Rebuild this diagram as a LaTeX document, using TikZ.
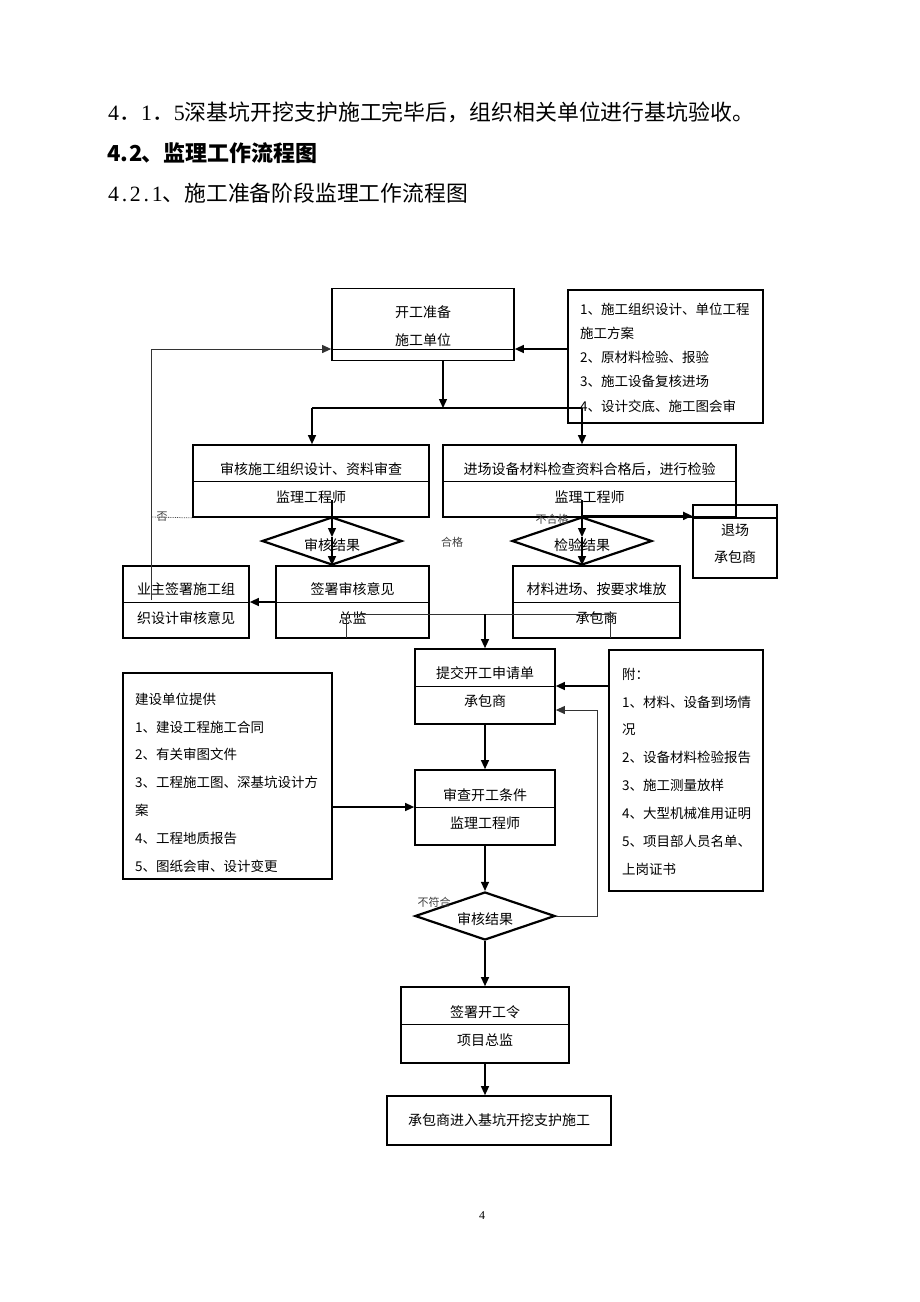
\documentclass[tikz,border=0pt]{standalone}
\usepackage{fontspec}
\setmainfont{Noto Sans CJK SC}
\newfontfamily\lserif{Liberation Serif}
\newcommand\hw[1]{\makebox[0.5em]{#1}}
\usetikzlibrary{arrows.meta,shapes.geometric}
\begin{document}
\begin{tikzpicture}[x=1pt,y=-1pt,
  box/.style={draw, line width=1.7pt, inner sep=0pt},
  div/.style={line width=0.6pt},
  conn/.style={line width=1.3pt, -{Triangle[length=9pt,width=8pt]}},
  thinconn/.style={line width=1pt, -{Triangle[length=9pt,width=8pt]}},
  wire/.style={line width=1pt},
  dia/.style={draw, diamond, line width=2.2pt, inner sep=0pt, minimum width=140pt, minimum height=48pt},
  txt/.style={inner sep=0pt, font=\fontsize{14}{14}\selectfont},
  ltxt/.style={inner sep=0pt, anchor=west, align=left},
  small/.style={inner sep=0pt, font=\fontsize{11}{11}\selectfont, text=black!75},
  head/.style={inner sep=0pt, anchor=west, font=\fontsize{20.5}{20.5}\selectfont}
]
\fill[white] (0,0) rectangle (920,1302);
\useasboundingbox (0,0) rectangle (920,1302);

% headings
\node[head, font=\fontsize{21.9}{21.9}\selectfont] (h1) at (108,112) {{\lserif\hw{4}}．{\lserif\hw{1}}．{\lserif\hw{5}}深基坑开挖支护施工完毕后，组织相关单位进行基坑验收。};
\node[head, font=\fontsize{22}{22}\selectfont\bfseries] (h2) at (108,153) {\hw{4}\hw{.}\hw{2}、监理工作流程图};
\node[head, font=\fontsize{21.8}{21.8}\selectfont] (h3) at (108,193) {{\lserif\hw{4}\hw{.}\hw{2}\hw{.}\hw{1}}、施工准备阶段监理工作流程图};

% boxes
\node[box, minimum width=182pt, minimum height=72pt] (b1) at (423,324.5) {};
\node[box, minimum width=195pt, minimum height=133pt] (b2) at (665.5,356.5) {};
\node[box, minimum width=236pt, minimum height=72pt] (b3) at (311,481) {};
\node[box, minimum width=293pt, minimum height=72pt] (b4) at (589.5,481) {};
\node[box, minimum width=84pt, minimum height=73pt] (b5) at (735,541.5) {};
\node[box, minimum width=126pt, minimum height=72pt] (b6) at (186,602) {};
\node[box, minimum width=153pt, minimum height=72pt] (b7) at (352.5,602) {};
\node[box, minimum width=167pt, minimum height=72pt] (b8) at (596.5,602) {};
\node[box, minimum width=140pt, minimum height=75pt] (b9) at (485,686.5) {};
\node[box, minimum width=154pt, minimum height=241pt] (b10) at (686,770.5) {};
\node[box, minimum width=140pt, minimum height=75pt] (b11) at (485,807.5) {};
\node[box, minimum width=209pt, minimum height=206pt] (b12) at (227.5,776) {};
\node[box, minimum width=168pt, minimum height=76pt] (b13) at (485,1025) {};
\node[box, minimum width=224pt, minimum height=49pt] (b14) at (499,1120.5) {};

% diamonds
\node[dia] (d1) at (332,541) {};
\node[dia] (d2) at (582,541) {};
\node[dia] (d3) at (485,916) {};

% dividers
\draw[div] (b1.west |- 0,349) -- (b1.east |- 0,349);
\draw[div] (b3.west |- 0,481) -- (b3.east |- 0,481);
\draw[div] (b4.west |- 0,481) -- (b4.east |- 0,481);
\draw[line width=1.7pt] (b5.west |- 0,518) -- (b5.east |- 0,518);
\draw[div] (b6.west |- 0,602) -- (b6.east |- 0,602);
\draw[div] (b7.west |- 0,602) -- (b7.east |- 0,602);
\draw[div] (b8.west |- 0,602) -- (b8.east |- 0,602);
\draw[div] (b9.west |- 0,686) -- (b9.east |- 0,686);
\draw[div] (b11.west |- 0,807) -- (b11.east |- 0,807);
\draw[div] (b13.west |- 0,1024) -- (b13.east |- 0,1024);

% box texts
\node[txt] (t1a) at (423,312) {开工准备};
\node[txt] (t1b) at (423,340) {施工单位};
\node[ltxt, font=\fontsize{13.5}{24.2}\selectfont] (t2) at (580,357.5) {1、施工组织设计、单位工程\\施工方案\\2、原材料检验、报验\\3、施工设备复核进场\\4、设计交底、施工图会审};
\node[txt] (t3a) at (311,469) {审核施工组织设计、资料审查};
\node[txt] (t3b) at (311,497) {监理工程师};
\node[txt] (t4a) at (589.5,469) {进场设备材料检查资料合格后，进行检验};
\node[txt] (t4b) at (589.5,497) {监理工程师};
\node[txt] (t5a) at (735,530) {退场};
\node[txt] (t5b) at (735,557) {承包商};
\node[txt] (t6a) at (186,589) {业主签署施工组};
\node[txt] (t6b) at (186,618) {织设计审核意见};
\node[txt] (t7a) at (352.5,589) {签署审核意见};
\node[txt] (t7b) at (352.5,618) {总监};
\node[txt] (t8a) at (596.5,589) {材料进场、按要求堆放};
\node[txt] (t8b) at (596.5,618) {承包商};
\node[txt] (t9a) at (485,673) {提交开工申请单};
\node[txt] (t9b) at (485,701) {承包商};
\node[ltxt, font=\fontsize{13.5}{27.85}\selectfont] (t10) at (622,771.5) {附：\\1、材料、设备到场情\\况\\2、设备材料检验报告\\3、施工测量放样\\4、大型机械准用证明\\5、项目部人员名单、\\上岗证书};
\node[txt] (t11a) at (485,795) {审查开工条件};
\node[txt] (t11b) at (485,823) {监理工程师};
\node[ltxt, font=\fontsize{13.5}{27.8}\selectfont] (t12) at (135,782.5) {建设单位提供\\1、建设工程施工合同\\2、有关审图文件\\3、工程施工图、深基坑设计方\\案\\4、工程地质报告\\5、图纸会审、设计变更};
\node[txt] (t13a) at (485,1012) {签署开工令};
\node[txt] (t13b) at (485,1040) {项目总监};
\node[txt] (t14) at (499,1120) {承包商进入基坑开挖支护施工};
\node[txt] (td1) at (332,545) {审核结果};
\node[txt] (td2) at (582,545) {检验结果};
\node[txt] (td3) at (485,919) {审核结果};

% small labels
\node[small] (lno) at (162,517) {否};
\node[small] (lok) at (452,542) {合格};
\node[small] (lbad) at (552,519) {不合格};
\node[small] (lbad2) at (434,902) {不符合};

% coordinates
\coordinate (j1) at (443,408);
\coordinate (j1l) at (312,408);
\coordinate (j1r) at (582,408);
\coordinate (s1) at (332,500);
\coordinate (m1) at (332,537);
\coordinate (s2) at (582,500);
\coordinate (m2) at (582,537);
\coordinate (fa) at (151,600);
\coordinate (fb) at (151,349);
\coordinate (fn) at (151,517);
\coordinate (ja) at (346,638);
\coordinate (jb) at (346,614);
\coordinate (jc) at (610,614);
\coordinate (jd) at (610,638);
\coordinate (jm) at (485,614);
\coordinate (ra) at (597,916);
\coordinate (rb) at (597,710);

% connectors
\draw[conn] (b2.west |- 0,349) -- (b1.east |- 0,349);
\draw[conn] (b1.south -| j1) -- (j1);
\draw[wire, line width=1.2pt] (j1l) -- (j1r);
\draw[conn] (j1l) -- (b3.north -| j1l);
\draw[conn] (j1r) -- (b4.north -| j1r);
\draw[thinconn, draw=black!80] (fa) -- (fb) -- (b1.west |- fb);
\draw[wire, line width=0.8pt, densely dotted, draw=black!70] (b3.south west) -- (fn);
\draw[conn] (s1) -- (m1);
\draw[conn] (m1) -- (b7.north -| m1);
\draw[conn] (s2) -- (m2);
\draw[conn] (m2) -- (b8.north -| m2);
\draw[conn, line width=1.7pt] (d2.north) -- (b5.west |- d2.north);
\draw[conn] (b7.west |- 0,602) -- (b6.east |- 0,602);
\draw[wire, draw=black!80] (ja) -- (jb) -- (jc) -- (jd);
\draw[conn] (jm) -- (b9.north);
\draw[conn] (b10.west |- 0,686) -- (b9.east |- 0,686);
\draw[conn] (b9.south) -- (b11.north);
\draw[conn] (b12.east |- 0,807) -- (b11.west |- 0,807);
\draw[conn] (b11.south) -- (d3.north);
\draw[thinconn, draw=black!80] (d3.east) -- (ra) -- (rb) -- (b9.east |- rb);
\draw[conn] (d3.south) -- (b13.north);
\draw[conn] (b13.south) -- (b13.south |- b14.north);

% page number
\node[inner sep=0pt, font=\lserif\fontsize{12}{12}\selectfont] (pg) at (482,1216) {4};
\end{tikzpicture}
\end{document}
